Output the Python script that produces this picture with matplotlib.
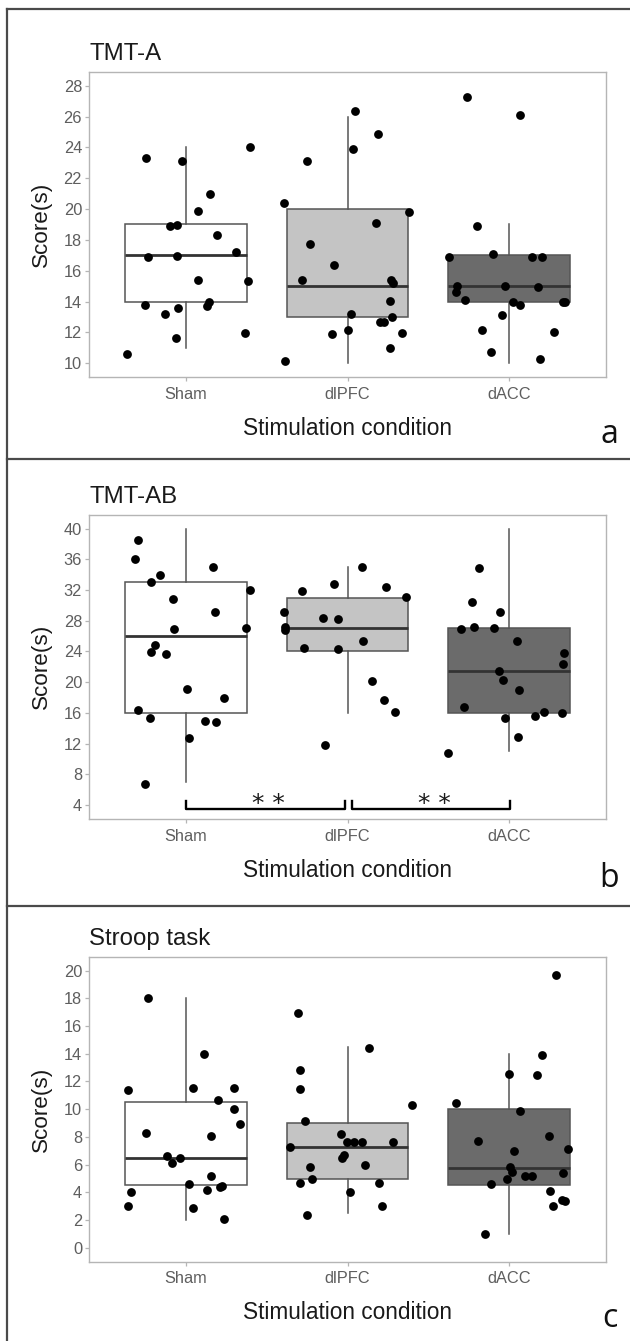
import matplotlib
matplotlib.use("Agg")
import matplotlib.pyplot as plt
from matplotlib.lines import Line2D

plt.rcParams['font.family'] = ['Liberation Sans', 'DejaVu Sans']

# ---------------- data ----------------
conditions = ["Sham", "dlPFC", "dACC"]
panel_titles = ["TMT-A", "TMT-AB", "Stroop task"]
panel_letters = ["a", "b", "c"]
y_label = "Score(s)"
x_label = "Stimulation condition"

# Panel a: TMT-A
sham_a = [10.6, 23.3, 23.1, 24.0, 21.0, 19.9, 18.9, 18.95, 18.35, 16.9, 16.95, 17.2,
          15.4, 15.3, 13.75, 13.2, 13.6, 13.7, 14.0, 11.6, 11.95]
sham_a_jit = [-0.362, -0.249, -0.025, 0.399, 0.150, 0.074, -0.097, -0.058, 0.191, -0.235,
              -0.053, 0.311, 0.072, 0.385, -0.251, -0.130, -0.049, 0.130, 0.142, -0.064, 0.364]
dlpfc_a = [10.15, 20.4, 23.1, 17.75, 15.4, 26.4, 24.9, 23.9, 19.8, 19.1, 16.35, 15.4, 15.2,
           14.05, 13.2, 12.65, 12.7, 13.0, 11.9, 12.15, 11.95, 11.0]
dlpfc_a_jit = [-0.389, -0.393, -0.253, -0.230, -0.280, 0.049, 0.191, 0.033, 0.379, 0.177,
               -0.082, 0.270, 0.280, 0.265, 0.021, 0.200, 0.228, 0.276, -0.093, 0.002, 0.337, 0.265]
dacc_a = [27.25, 26.1, 18.9, 16.9, 17.1, 16.9, 16.9, 15.0, 14.65, 15.0, 14.95, 14.1, 14.0,
          13.8, 14.0, 14.0, 13.1, 12.15, 12.0, 10.7, 10.25]
dacc_a_jit = [-0.261, 0.068, -0.198, -0.374, -0.097, 0.144, 0.206, -0.321, -0.329, -0.023,
              0.179, -0.274, 0.025, 0.068, 0.333, 0.348, -0.041, -0.165, 0.280, -0.113, 0.191]
# box stats: (whisker low, q1, median, q3, whisker high)
box_a = [(11, 14, 17, 19, 24), (10, 13, 15, 20, 26), (10, 14, 15, 17, 19)]
yticks_a = list(range(10, 29, 2))
ylim_a = (9.1, 28.9)

# Panel b: TMT-AB
sham_b = [38.45, 36.1, 34.0, 33.1, 35.0, 30.8, 32.0, 29.2, 26.9, 27.1, 24.8, 23.95, 23.7,
          19.15, 17.95, 16.35, 15.4, 14.95, 14.8, 12.75, 6.8]
sham_b_jit = [-0.298, -0.315, -0.160, -0.214, 0.165, -0.078, 0.395, 0.179, -0.072, 0.374,
              -0.189, -0.218, -0.123, 0.008, 0.233, -0.294, -0.224, 0.117, 0.185, 0.021, -0.251]
dlpfc_b = [29.2, 27.25, 26.8, 31.9, 24.4, 32.8, 35.0, 32.4, 31.1, 28.4, 28.2, 25.4, 24.35,
           20.2, 17.7, 16.1, 11.8]
dlpfc_b_jit = [-0.393, -0.385, -0.385, -0.282, -0.267, -0.084, 0.088, 0.239, 0.362, -0.152,
               -0.060, 0.095, -0.056, 0.154, 0.228, 0.296, -0.140]
dacc_b = [34.9, 30.4, 29.2, 26.9, 27.15, 27.05, 25.4, 23.85, 22.35, 21.5, 20.35, 19.0, 16.75,
          15.3, 15.65, 16.15, 16.0, 12.9, 10.75]
dacc_b_jit = [-0.189, -0.230, -0.058, -0.298, -0.220, -0.093, 0.047, 0.340, 0.331, -0.062,
              -0.039, 0.060, -0.278, -0.023, 0.158, 0.216, 0.327, 0.053, -0.381]
box_b = [(7, 16, 26, 33, 40), (16, 24, 27, 31, 35), (11, 16, 21.5, 27, 40)]
yticks_b = list(range(4, 41, 4))
ylim_b = (2.2, 41.8)
# significance brackets: (from category, to category, label)
sig_pairs = [(1.0, 1.985, "* *"), (2.027, 3.008, "* *")]
sig_y_top = 4.5
sig_y_bar = 3.45

# Panel c: Stroop task
sham_c = [18.0, 11.35, 8.3, 14.0, 11.5, 11.5, 10.65, 10.05, 8.9, 8.05, 6.65, 6.5, 6.1, 5.15,
          4.6, 4.2, 4.4, 4.45, 4.05, 3.0, 2.85, 2.05]
sham_c_jit = [-0.233, -0.356, -0.249, 0.111, 0.045, 0.300, 0.198, 0.300, 0.333, 0.156, -0.115,
              -0.039, -0.088, 0.156, 0.016, 0.130, 0.208, 0.226, -0.340, -0.356, 0.045, 0.237]
dlpfc_c = [16.95, 12.85, 11.45, 9.15, 7.25, 5.8, 5.0, 4.65, 2.35, 14.45, 10.3, 8.2, 7.65, 7.65,
           7.65, 7.65, 6.7, 6.5, 5.95, 4.7, 4.05, 3.05]
dlpfc_c_jit = [-0.305, -0.296, -0.296, -0.263, -0.354, -0.235, -0.218, -0.296, -0.251, 0.130,
               0.399, -0.043, -0.004, 0.043, 0.088, 0.284, -0.019, -0.031, 0.111, 0.195, 0.016, 0.214]
dacc_c = [19.7, 13.9, 12.55, 12.5, 10.45, 9.85, 7.7, 8.1, 7.15, 7.0, 5.8, 5.45, 5.2, 5.15, 5.4,
          4.95, 4.6, 4.1, 3.45, 3.4, 3.0, 1.0]
dacc_c_jit = [0.288, 0.202, 0.0, 0.175, -0.331, 0.066, -0.195, 0.247, 0.366, 0.029, 0.008,
              0.019, 0.099, 0.144, 0.335, -0.012, -0.109, 0.255, 0.329, 0.344, 0.274, -0.146]
box_c = [(2, 4.5, 6.5, 10.5, 18), (2.5, 5, 7.25, 9, 14.5), (1, 4.5, 5.75, 10, 14)]
yticks_c = list(range(0, 21, 2))
ylim_c = (-1.0, 21.0)

panels = [
    dict(points=[(sham_a, sham_a_jit), (dlpfc_a, dlpfc_a_jit), (dacc_a, dacc_a_jit)],
         boxes=box_a, yticks=yticks_a, ylim=ylim_a),
    dict(points=[(sham_b, sham_b_jit), (dlpfc_b, dlpfc_b_jit), (dacc_b, dacc_b_jit)],
         boxes=box_b, yticks=yticks_b, ylim=ylim_b),
    dict(points=[(sham_c, sham_c_jit), (dlpfc_c, dlpfc_c_jit), (dacc_c, dacc_c_jit)],
         boxes=box_c, yticks=yticks_c, ylim=ylim_c),
]

# ---------------- styling / layout ----------------
W, H = 630, 1341
fig = plt.figure(figsize=(W / 100, H / 100), dpi=100)
fig.patch.set_facecolor("white")

box_fills = ["#ffffff", "#c4c4c4", "#6b6b6b"]
axes_px = [(89, 606, 72, 377), (89, 606, 514.7, 819), (89, 606, 956.7, 1261.7)]
letter_pos = [(609, 443), (609, 887), (610, 1327)]
frame_lines_y = [9, 459, 906]
frame_left_x = 7
border_col = "#b5b5b5"
tick_text_col = "#5e5e5e"

def px_rect(l, r, t, b):
    return [l / W, 1 - b / H, (r - l) / W, (b - t) / H]

for i, p in enumerate(panels):
    ax = fig.add_axes(px_rect(*axes_px[i]))
    stats = []
    for (lo, q1, med, q3, hi) in p["boxes"]:
        stats.append(dict(whislo=lo, q1=q1, med=med, q3=q3, whishi=hi, fliers=[]))
    bp = ax.bxp(stats, positions=[1, 2, 3], widths=0.75, patch_artist=True,
                showcaps=False, showfliers=False,
                boxprops=dict(edgecolor="#555555", linewidth=1.1),
                medianprops=dict(color="#333333", linewidth=2.0, solid_capstyle="butt"),
                whiskerprops=dict(color="#555555", linewidth=1.1))
    for patch, fc in zip(bp["boxes"], box_fills):
        patch.set_facecolor(fc)
    for k, (vals, jit) in enumerate(p["points"]):
        xs = [k + 1 + j for j in jit]
        ax.scatter(xs, vals, s=40, color="black", zorder=5, linewidths=0)

    ax.set_xlim(0.4, 3.6)
    ax.set_ylim(*p["ylim"])
    ax.set_yticks(p["yticks"])
    ax.set_xticks([1, 2, 3])
    ax.set_xticklabels(conditions)
    for s in ax.spines.values():
        s.set_color(border_col)
        s.set_linewidth(1.0)
    ax.tick_params(axis="both", colors=border_col, labelcolor=tick_text_col,
                   length=3, width=0.9)
    ax.tick_params(axis="x", labelsize=11.8, pad=4)
    ax.tick_params(axis="y", labelsize=11.8, pad=2)

    ax.set_title(panel_titles[i], loc="left", fontsize=17.3, pad=8.6, color="#1a1a1a")
    ax.set_ylabel(y_label, fontsize=16.2, color="#1a1a1a")
    ax.yaxis.set_label_coords(-0.072, 0.5)
    ax.set_xlabel(x_label, fontsize=16.3, color="#1a1a1a")
    ax.xaxis.set_label_coords(0.5, -0.13)

    if i == 1:
        for (x0, x1, lab) in sig_pairs:
            ax.plot([x0, x0, x1, x1], [sig_y_top, sig_y_bar, sig_y_bar, sig_y_top],
                    color="black", lw=1.7, solid_joinstyle="round", zorder=6,
                    clip_on=False)
            ax.text((x0 + x1) / 2 + 0.02, 3.2, lab, ha="center", va="baseline",
                    fontsize=18, family="DejaVu Sans", color="#1a1a1a")

    lx, ly = letter_pos[i]
    fig.text(lx / W, 1 - ly / H, panel_letters[i], ha="center", va="baseline",
             fontsize=23, family="Open Sans", color="#111111")

# panel frame lines
for y in frame_lines_y:
    fig.add_artist(Line2D([frame_left_x / W, 1.0], [1 - y / H, 1 - y / H],
                          color="#4a4a4a", lw=1.6))
fig.add_artist(Line2D([frame_left_x / W, frame_left_x / W], [1 - frame_lines_y[0] / H, 0.0],
                      color="#4a4a4a", lw=1.6))

fig.savefig("out.png", dpi=100, facecolor="white")
